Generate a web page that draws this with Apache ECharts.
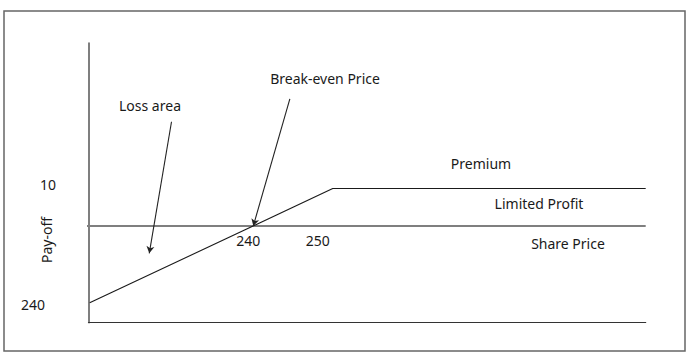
<!DOCTYPE html>
<html><head><meta charset="utf-8">
<script src="https://cdn.jsdelivr.net/npm/echarts@6/dist/echarts.min.js"></script>
<style>html,body{margin:0;padding:0;background:#fff}#c{width:697px;height:358px}</style>
</head><body><div id="c"></div>
<script>
// Data (share price, pay-off)
const payoffX = [219.4, 250, 289.4];
const payoffY = [-20.5, 10, 10];
const zeroLineX = [219.0, 289.4];
const zeroLineY = [0, 0];
// Arrows: [fromX, fromY, toX, toY]
const lossArrow = [229.7, 27.8, 226.9, -7.3];
const breakEvenArrow = [244.6, 33.9, 240, 0];
// Tick labels: [text, value]
const yTickLabels = [['10', 10], ['240', -20.5]];
const xTickLabels = [['240', 240], ['250', 250]];
const FONT = 'Noto Sans';

const chart = echarts.init(document.getElementById('c'), null, {renderer: 'svg'});
const xMin = 219.25, xMax = 289.4, yMin = -25.8, yMax = 48.8;

function arrowLine(a) {
  return [{coord: [a[0], a[1]]}, {coord: [a[2], a[3]]}];
}

chart.setOption({
  animation: false,
  grid: {left: 88.5, top: 43, width: 557.2, height: 279.7},
  xAxis: {type: 'value', min: xMin, max: xMax,
    axisLine: {show: true, onZero: false, lineStyle: {color: '#333', width: 1.2}},
    axisTick: {show: false}, axisLabel: {show: false}, splitLine: {show: false}},
  yAxis: {type: 'value', min: yMin, max: yMax,
    axisLine: {show: true, onZero: false, lineStyle: {color: '#555', width: 1.5}},
    axisTick: {show: false}, axisLabel: {show: false}, splitLine: {show: false}},
  series: [
    {type: 'line', data: zeroLineX.map((x, i) => [x, zeroLineY[i]]), symbol: 'none',
     lineStyle: {color: '#7f7f7f', width: 2}, z: 2},
    {type: 'line', data: payoffX.map((x, i) => [x, payoffY[i]]), symbol: 'none',
     lineStyle: {color: '#1a1a1a', width: 1.1}, z: 3,
     markLine: {silent: true, symbol: ['none', 'arrow'], symbolSize: [6, 7],
       label: {show: false},
       lineStyle: {color: '#222', width: 1.1, type: 'solid'},
       data: [arrowLine(lossArrow), arrowLine(breakEvenArrow)]}}
  ]
});

function txt(text, x, y, opts) {
  return Object.assign({type: 'text', x: x, y: y,
    style: {text: text, font: '14px "' + FONT + '"', fill: '#1a1a1a', textAlign: 'center', textVerticalAlign: 'middle'}}, opts || {});
}

const g = [
  {type: 'rect', shape: {x: 4, y: 11, width: 681, height: 340},
   style: {fill: 'none', stroke: '#666', lineWidth: 1.5}},
  txt('Break-even Price', 325, 78),
  txt('Loss area', 150, 105),
  txt('Premium', 481, 163),
  txt('Limited Profit', 539, 203),
  txt('Share Price', 568, 243),
  {type: 'text', x: 46, y: 240, rotation: Math.PI / 2,
   style: {text: 'Pay-off', font: '14px "' + FONT + '"', fill: '#1a1a1a', textAlign: 'center', textVerticalAlign: 'middle'}}
];
yTickLabels.forEach(([t, v], i) => {
  const p = chart.convertToPixel({gridIndex: 0}, [xMin, v]);
  g.push(txt(t, i === 0 ? 48 : 33, p[1] + (i === 0 ? -4 : 2)));
});
xTickLabels.forEach(([t, v]) => {
  const p = chart.convertToPixel({gridIndex: 0}, [v, 0]);
  g.push(txt(t, p[0] - 5 - (v === 250 ? 10 : 0), p[1] + 15));
});
chart.setOption({graphic: g});
</script></body></html>
